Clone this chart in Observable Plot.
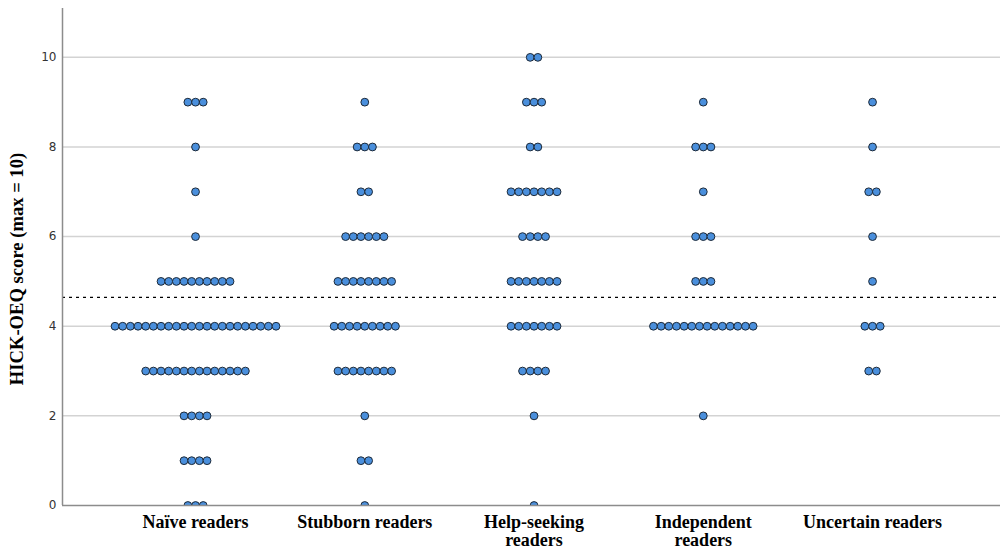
<!DOCTYPE html>
<html>
<head>
<meta charset="utf-8">
<script src="https://cdn.jsdelivr.net/npm/d3@7"></script>
<script src="https://cdn.jsdelivr.net/npm/@observablehq/plot@0.6"></script>
<style>
  html, body { margin: 0; padding: 0; background: #fff; }
</style>
</head>
<body>
<div id="chart"></div>
<script>
const categories = ["Naïve readers", "Stubborn readers", "Help-seeking readers", "Independent readers", "Uncertain readers"];
const categoryLabels = ["Naïve readers", "Stubborn readers", "Help-seeking\nreaders", "Independent\nreaders", "Uncertain readers"];
const scores = [0, 1, 2, 3, 4, 5, 6, 7, 8, 9, 10];
// number of respondents at each score (0..10) per category
const naiveCounts      = [3, 4, 4, 14, 22, 10, 1, 1, 1, 3, 0];
const stubbornCounts   = [1, 2, 1, 8, 9, 8, 6, 2, 3, 1, 0];
const helpCounts       = [1, 0, 1, 4, 7, 7, 4, 7, 2, 3, 2];
const independentCounts= [0, 0, 1, 0, 14, 3, 3, 1, 3, 1, 0];
const uncertainCounts  = [0, 0, 0, 2, 3, 1, 1, 2, 1, 1, 0];
const yTicks = [0, 2, 4, 6, 8, 10];

const countsByCategory = [naiveCounts, stubbornCounts, helpCounts, independentCounts, uncertainCounts];
const dotStep = 0.0453; // horizontal stacking step (in category units)

const dots = [];
countsByCategory.forEach((counts, ci) => {
  counts.forEach((n, si) => {
    for (let k = 0; k < n; k++) {
      dots.push({category: categories[ci], ci, score: scores[si], pos: ci + (k - (n - 1) / 2) * dotStep});
    }
  });
});
const meanScore = d3.mean(dots, d => d.score);
const xDomain = [-0.786, 4.756];

const chart = Plot.plot({
  width: 1001,
  height: 550,
  marginLeft: 62,
  marginRight: 1,
  marginTop: 8,
  marginBottom: 45,
  style: {background: "#fff"},
  x: {domain: xDomain, axis: null},
  y: {domain: [0, 11.09], axis: null},
  marks: [
    Plot.gridY(yTicks.filter(d => d > 0), {stroke: "#d3d3d3", strokeOpacity: 1, strokeWidth: 1.5}),
    Plot.axisY(yTicks, {tickSize: 0, tickPadding: 6, fontSize: 12, fontFamily: "DejaVu Sans", fill: "#333", label: null}),
    Plot.text(["HICK-OEQ score (max = 10)"], {frameAnchor: "left", textAnchor: "middle", rotate: -90, dx: -45, dy: 12, fontSize: 18.6, fontWeight: "bold", fontFamily: "Liberation Serif", fill: "#000"}),
    Plot.axisX([0, 1, 2, 3, 4], {tickSize: 0, tickPadding: 10, tickFormat: i => categoryLabels[i], fontSize: 18, fontWeight: "bold", fontFamily: "Liberation Serif", fill: "#000", lineHeight: 1.0, label: null}),
    Plot.ruleY([meanScore], {stroke: "#000", strokeWidth: 1.2, strokeDasharray: "3,4"}),
    Plot.dot(dots, {x: "pos", y: "score", r: 3.9, fill: "#4a8fdc", stroke: "#1e2a38", strokeWidth: 1, clip: true}),
    Plot.ruleY([0], {stroke: "#8c8c8c", strokeWidth: 1.5}),
    Plot.ruleX([xDomain[0]], {stroke: "#8c8c8c", strokeWidth: 1.5})
  ]
});
document.getElementById("chart").appendChild(chart);
</script>
</body>
</html>
